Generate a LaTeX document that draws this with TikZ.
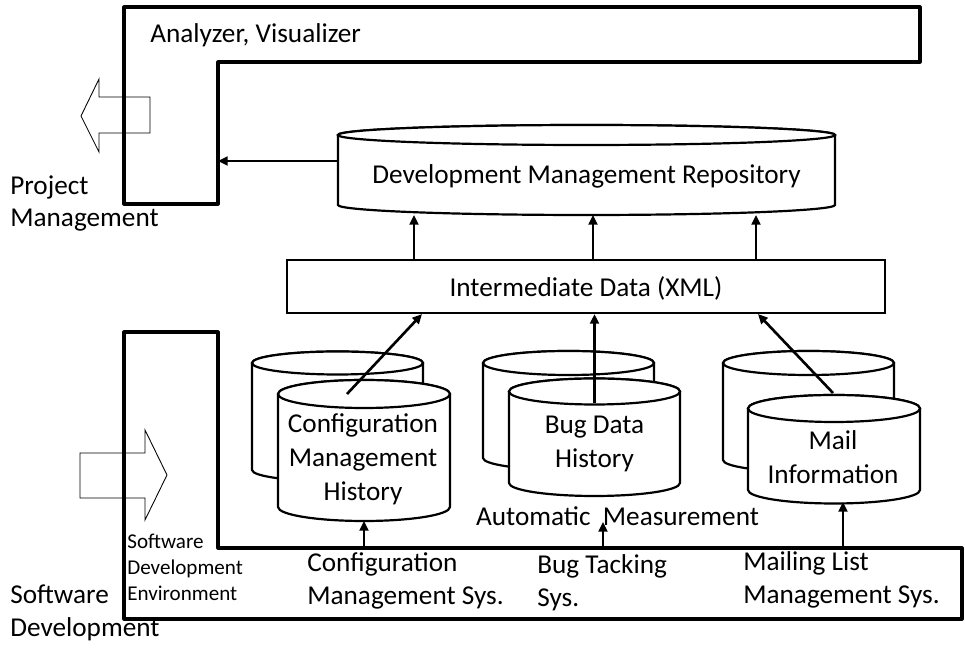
\documentclass[tikz,border=0pt]{standalone}
\usepackage{fontspec}
\setmainfont{Carlito}
\usetikzlibrary{calc,arrows.meta}
\tikzstyle{frame}=[line width=1.8pt, line join=round]
\tikzstyle{db}=[line width=1.25pt, fill=white]
\tikzstyle{hollow}=[line width=0.5pt, line join=miter]
\tikzstyle{arr}=[line width=1.5pt, -{Triangle[length=5.5pt,width=5pt]}]
\tikzstyle{databox}=[rectangle, draw, line width=1.2pt, minimum width=11.96cm, minimum height=1.06cm, inner sep=0pt, text height=13pt, text depth=1.1pt]
\tikzstyle{bigtext}=[font=\fontsize{15.5}{19.3}\selectfont, inner sep=0pt, align=center]
\tikzstyle{lefttext}=[font=\fontsize{15.5}{18.7}\selectfont, inner sep=0pt, align=left, anchor=west]
\tikzstyle{smalltext}=[font=\fontsize{12}{15}\selectfont, inner sep=0pt, align=left, anchor=west]
% name, centre x, top ellipse y, x radius, y radius, body height
\newcommand{\drawdb}[6]
{
  \coordinate (#1-c) at (#2,#3);
  \coordinate (#1-bot) at (#2,#3-#6-#5);
  \filldraw[db] (#2-#4,#3) -- ++(0,-#6) arc[start angle=180,end angle=360,x radius=#4,y radius=#5] -- ++(0,#6) arc[start angle=0,end angle=180,x radius=#4,y radius=#5] -- cycle;
  \draw[db] (#1-c) ellipse[x radius=#4,y radius=#5];
}
\begin{document}
\begin{tikzpicture}[x=0.02cm, y=0.02cm]
	\useasboundingbox (0,0) rectangle (965,649);

	% hollow arrows
	\draw[hollow] (150,552) -- (99,552) -- (99,570) -- (81,533) -- (99,497) -- (99,516) -- (150,516) -- cycle;
	\draw[hollow] (80,196) -- (145,196) -- (145,219) -- (167,174) -- (145,129) -- (145,151) -- (80,151) -- cycle;

	\draw[frame] (124,642) -- (920,642) -- (920,587) -- (218,587) -- (218,445) -- (124,445) -- cycle;
	\draw[frame] (124,317) -- (218,317) -- (218,101) -- (962,101) -- (962,30) -- (124,30) -- cycle;
	\coordinate (anl) at (218,488);
	\coordinate (sys) at (0,101);

	\node[bigtext, anchor=base west] (anltext) at (150,606) {Analyzer, Visualizer};
	\node[lefttext] (pmtext) at (10,445.5) {Project\\Management};
	\node[lefttext] (sdtext) at (10,36) {Software\\Development};
	\node[smalltext] (envtext) at (127,81.5) {Software\\Development\\Environment};

	\drawdb{repo}{586.5}{514}{248.5}{10}{70}
	\node[bigtext, anchor=base] (repotext) at (586.5,465) {Development Management Repository};
	\node[databox, bigtext] (inter) at (586,362.5) {Intermediate Data (XML)};

	\drawdb{cfgb}{337.5}{286}{85.5}{11.5}{107}
	\drawdb{cfgf}{364}{255}{86}{14}{113}
	\drawdb{bugb}{568.5}{286}{85.5}{12}{95}
	\drawdb{bugf}{594.5}{257.5}{85.5}{13}{91.5}
	\drawdb{mailb}{808.5}{286}{85.5}{12}{97}
	\drawdb{mailf}{834}{240.5}{86}{13.5}{81.5}

	\node[bigtext] (cfgtext) at (363,189.5) {Configuration\\Management\\History};
	\node[bigtext] (bugtext) at (594.5,205) {Bug Data\\History};
	\node[bigtext] (mailtext) at (833,191.5) {Mail\\Information};
	\node[bigtext, anchor=base] (meas) at (617.5,123) {Automatic~~Measurement};

	\node[lefttext] (cfgsys) at (307,68) {Configuration\\Management Sys.};
	\node[lefttext] (bugsys) at (537,66.5) {Bug Tacking\\Sys.};
	\node[lefttext] (mailsys) at (743,69) {Mailing List\\Management Sys.};

	% intermediate data -> repository -> analyzer
	\draw[arr] ($(inter.north west)+(128,0)$) coordinate (a1) -- (a1 |- repo-bot);
	\draw[arr] ($(inter.north west)+(307,0)$) coordinate (a2) -- (a2 |- repo-bot);
	\draw[arr] ($(inter.north west)+(470,0)$) coordinate (a3) -- (a3 |- repo-bot);
	\draw[arr] ($(repo-c)+(-248.5,-26)$) -- (anl);

	% histories -> intermediate data
	\draw[arr] ($(cfgf-c)+(-17,0)$) -- ($(inter.south west)+(136,0)$);
	\draw[arr] ($(bugf-c)+(0,-11.5)$) coordinate (b1) -- (b1 |- inter.south);
	\draw[arr] ($(mailf-c)+(-1,15.5)$) -- ($(inter.south west)+(472,0)$);

	% tools -> histories
	\coordinate (measin) at ($(meas.base)+(-14.5,4)$);
	\coordinate (mailin) at ($(mailf-bot)+(9,1.5)$);
	\draw[arr] (cfgf-bot |- sys) -- (cfgf-bot);
	\draw[arr] (measin |- sys) -- (measin);
	\draw[arr] (mailin |- sys) -- (mailin);

\end{tikzpicture}
\end{document}
